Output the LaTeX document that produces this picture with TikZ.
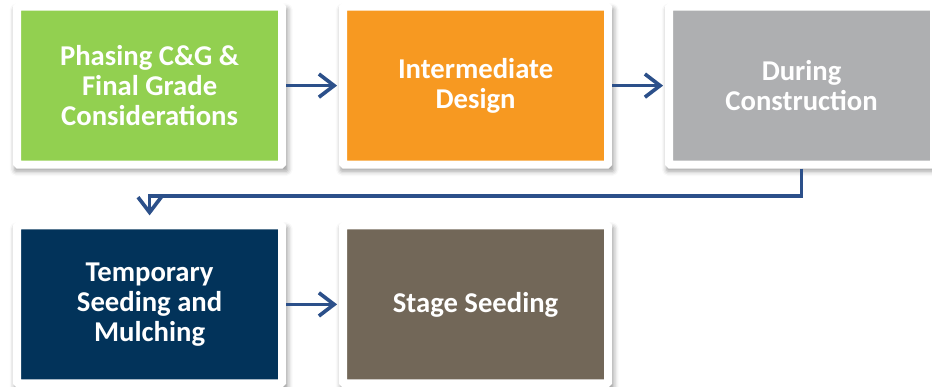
\documentclass[tikz,border=0pt]{standalone}
\usepackage{fontspec}
\setmainfont{Carlito}
\usetikzlibrary{arrows.meta}
\usetikzlibrary{shadows.blur}
\definecolor{phgreen}{RGB}{146,208,80}
\definecolor{phorange}{RGB}{247,153,33}
\definecolor{phgray}{RGB}{174,175,177}
\definecolor{phnavy}{RGB}{2,51,90}
\definecolor{phbrown}{RGB}{114,103,88}
\definecolor{arrowblue}{RGB}{44,80,138}
\tikzset{
    phasebox/.style = {rectangle, draw=white, line width=0.2cm, rounded corners=0.03cm, minimum width=6.625cm, minimum height=3.95cm, align=center, text=white, font=\bfseries\fontsize{20.4}{21.5}\selectfont, blur shadow={shadow xshift=0.04cm, shadow yshift=-0.1cm, shadow scale=1.03, shadow blur radius=0.12cm, shadow opacity=40}},
    phaseboxg/.style = {phasebox, fill=phgreen},
    phaseboxo/.style = {phasebox, fill=phorange},
    phaseboxs/.style = {phasebox, fill=phgray},
    phaseboxn/.style = {phasebox, fill=phnavy},
    phaseboxb/.style = {phasebox, fill=phbrown},
    edgea/.style = {-{Straight Barb[length=0.38cm,width=0.58cm]}, line width=2.6pt, draw=arrowblue, shorten >=0.05cm}
}
\begin{document}
\begin{tikzpicture}
\path[use as bounding box] (0,0) rectangle (23.3,-9.675);
%
\node[phaseboxg] at (3.74,-2.14) (cg) {Phasing C\&G \&\\Final Grade\\Considerations};
\node[phaseboxo] at (11.89,-2.14) (inter) {Intermediate\\Design};
\node[phaseboxs] at (20.04,-2.14) (during) {During\\Construction};
\node[phaseboxn] at (3.74,-7.61) (temp) {Temporary\\Seeding and\\Mulching};
\node[phaseboxb] at (11.89,-7.61) (stage) {Stage Seeding};
%
\draw[edgea] (cg) edge (inter);
\draw[edgea] (inter) edge (during);
\draw[edgea] (temp) edge (stage);
\draw[edgea,shorten >=0.15cm] (during.south) -- ++(0,-0.68) -| (temp.north);

\end{tikzpicture}
\end{document}
